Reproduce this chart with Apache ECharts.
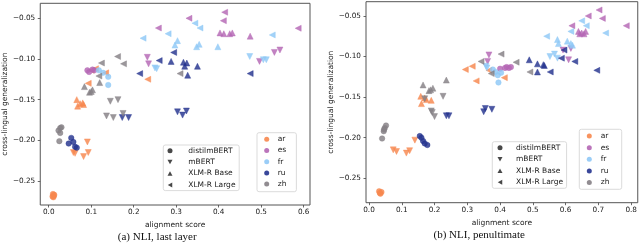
<!DOCTYPE html>
<html>
<head>
<meta charset="utf-8">
<script src="https://cdn.jsdelivr.net/npm/echarts@6/dist/echarts.min.js"></script>
<style>
html,body{margin:0;padding:0;background:#fff;}
#chart{width:640px;height:248px;}
</style>
</head>
<body>
<div id="chart"></div>
<script>
// ---------- data ----------
const languages = ['ar', 'es', 'fr', 'ru', 'zh'];
const models = ['distilmBERT', 'mBERT', 'XLM-R Base', 'XLM-R Large'];
const langColors = ['#f7874e', '#b466b4', '#8fc8f6', '#24338f', '#858085'];
const captions = ['(a) NLI, last layer', '(b) NLI, penultimate'];
const xTicksLeft = [0, 0.1, 0.2, 0.3, 0.4, 0.5, 0.6];
const xTicksRight = [0, 0.1, 0.2, 0.3, 0.4, 0.5, 0.6, 0.7, 0.8];
const yTicks = [-0.25, -0.20, -0.15, -0.10, -0.05];

// Panel (a): [alignment score, cross-lingual generalization], per model: distilmBERT, mBERT, XLM-R Base, XLM-R Large
const left_ar = [
  [[0.010,-0.266],[0.012,-0.268],[0.011,-0.270],[0.013,-0.267],[0.009,-0.269]],
  [[0.058,-0.215],[0.062,-0.216],[0.082,-0.220],[0.091,-0.202],[0.093,-0.215]],
  [[0.066,-0.150],[0.068,-0.158],[0.074,-0.155],[0.080,-0.154],[0.082,-0.156]],
  [[0.093,-0.130],[0.100,-0.114],[0.110,-0.112],[0.134,-0.117],[0.233,-0.125]]
];
const left_es = [
  [[0.091,-0.114],[0.107,-0.114],[0.095,-0.116],[0.103,-0.113]],
  [[0.232,-0.098],[0.235,-0.106],[0.496,-0.103],[0.531,-0.092],[0.544,-0.089]],
  [[0.403,-0.068],[0.412,-0.069],[0.426,-0.069],[0.432,-0.068],[0.474,-0.072]],
  [[0.330,-0.050],[0.414,-0.0426],[0.411,-0.053],[0.587,-0.0623],[0.258,-0.062]]
];
const left_fr = [
  [[0.118,-0.114],[0.128,-0.117],[0.140,-0.122],[0.140,-0.132]],
  [[0.250,-0.111],[0.254,-0.112],[0.473,-0.097],[0.505,-0.101],[0.512,-0.101]],
  [[0.303,-0.0775],[0.297,-0.083],[0.354,-0.082],[0.348,-0.085],[0.398,-0.085]],
  [[0.344,-0.056],[0.356,-0.062],[0.526,-0.0705],[0.222,-0.0745],[0.281,-0.069]]
];
const left_ru = [
  [[0.053,-0.197],[0.047,-0.204],[0.058,-0.202],[0.062,-0.208],[0.066,-0.209]],
  [[0.173,-0.172],[0.188,-0.172],[0.303,-0.165],[0.315,-0.169],[0.324,-0.164]],
  [[0.288,-0.103],[0.317,-0.104],[0.325,-0.105],[0.320,-0.109],[0.327,-0.120],[0.350,-0.109]],
  [[0.214,-0.118],[0.260,-0.102],[0.294,-0.092],[0.474,-0.118]]
];
const left_zh = [
  [[0.027,-0.185],[0.023,-0.188],[0.027,-0.191],[0.025,-0.201],[0.030,-0.184]],
  [[0.136,-0.170],[0.152,-0.172],[0.175,-0.167],[0.145,-0.152],[0.163,-0.150]],
  [[0.084,-0.134],[0.103,-0.138],[0.096,-0.141],[0.120,-0.129],[0.100,-0.140]],
  [[0.162,-0.097],[0.176,-0.106],[0.124,-0.105],[0.118,-0.121],[0.309,-0.118]]
];

// Panel (b)
const right_ar = [
  [[0.031,-0.266],[0.035,-0.269],[0.038,-0.267],[0.033,-0.268]],
  [[0.074,-0.215],[0.084,-0.217],[0.114,-0.219],[0.124,-0.216],[0.140,-0.203]],
  [[0.158,-0.149],[0.160,-0.158],[0.175,-0.153],[0.190,-0.154],[0.170,-0.151]],
  [[0.294,-0.116],[0.315,-0.112],[0.327,-0.130],[0.366,-0.117],[0.413,-0.126]]
];
const right_es = [
  [[0.420,-0.113],[0.427,-0.114],[0.433,-0.113],[0.400,-0.115],[0.415,-0.114]],
  [[0.366,-0.098],[0.362,-0.106],[0.592,-0.092],[0.616,-0.090],[0.609,-0.104]],
  [[0.639,-0.069],[0.649,-0.071],[0.661,-0.069],[0.656,-0.072],[0.643,-0.072]],
  [[0.702,-0.0426],[0.669,-0.050],[0.712,-0.053],[0.619,-0.062],[0.785,-0.062]]
];
const right_fr = [
  [[0.378,-0.116],[0.386,-0.119],[0.393,-0.123],[0.403,-0.120],[0.395,-0.132]],
  [[0.357,-0.112],[0.360,-0.114],[0.552,-0.100],[0.566,-0.097],[0.575,-0.102]],
  [[0.575,-0.079],[0.578,-0.084],[0.605,-0.081],[0.616,-0.084],[0.621,-0.086]],
  [[0.649,-0.056],[0.663,-0.062],[0.616,-0.069],[0.542,-0.075],[0.722,-0.071]]
];
const right_ru = [
  [[0.155,-0.198],[0.160,-0.200],[0.165,-0.204],[0.170,-0.207],[0.178,-0.209]],
  [[0.236,-0.173],[0.244,-0.173],[0.350,-0.168],[0.355,-0.164],[0.375,-0.165]],
  [[0.489,-0.104],[0.514,-0.109],[0.532,-0.110],[0.535,-0.111],[0.514,-0.119]],
  [[0.595,-0.092],[0.587,-0.102],[0.628,-0.106],[0.695,-0.117],[0.553,-0.119]]
];
const right_zh = [
  [[0.040,-0.201],[0.045,-0.192],[0.048,-0.188],[0.052,-0.185],[0.046,-0.190]],
  [[0.170,-0.152],[0.226,-0.149],[0.190,-0.167],[0.200,-0.174],[0.193,-0.169]],
  [[0.165,-0.135],[0.183,-0.142],[0.195,-0.139],[0.236,-0.129],[0.188,-0.141]],
  [[0.491,-0.119],[0.403,-0.097],[0.449,-0.107],[0.342,-0.106],[0.373,-0.121]]
];

const panels = [
  [left_ar, left_es, left_fr, left_ru, left_zh],
  [right_ar, right_es, right_fr, right_ru, right_zh]
];

// ---------- styling ----------
const FONT = 'DejaVu Sans';
const TXT = '#1a1a1a';
const modelSymbols = [
  {symbol: 'circle', rotate: 0, size: 5.5, icon: 'circle'},
  {symbol: 'triangle', rotate: 180, size: 6, icon: 'path://M0,0L10,0L5,9Z'},
  {symbol: 'triangle', rotate: 0, size: 6, icon: 'path://M5,0L10,9L0,9Z'},
  {symbol: 'triangle', rotate: 90, size: 6, icon: 'path://M9,0L9,10L0,5Z'}
];

function fmtY(v) { return (v < 0 ? '\u2212' : '') + Math.abs(v).toFixed(2); }
function fmtX(v) { return v.toFixed(1); }

function xAxis(idx, ticks, min, max) {
  return {
    type: 'value', gridIndex: idx, min: min, max: max,
    name: 'alignment score', nameLocation: 'middle', nameGap: 15,
    nameTextStyle: {fontFamily: FONT, fontSize: 7.5, color: TXT},
    axisLine: {show: false, onZero: false},
    axisTick: {show: true, length: 2.5, lineStyle: {color: '#444', width: 0.8}, customValues: ticks},
    axisLabel: {fontFamily: FONT, fontSize: 7.3, color: TXT, margin: 4, customValues: ticks, formatter: fmtX},
    splitLine: {show: false}
  };
}
function yAxis(idx, min, max, gap) {
  return {
    type: 'value', gridIndex: idx, min: min, max: max,
    name: 'cross-lingual generalization', nameLocation: 'middle', nameGap: gap,
    nameTextStyle: {fontFamily: FONT, fontSize: 7.5, color: TXT},
    axisLine: {show: false, onZero: false},
    axisTick: {show: true, length: 2.5, lineStyle: {color: '#444', width: 0.8}, customValues: yTicks},
    axisLabel: {fontFamily: FONT, fontSize: 7.3, color: TXT, margin: 5, customValues: yTicks, formatter: fmtY},
    splitLine: {show: false}
  };
}

const series = [];
panels.forEach(function (langs, p) {
  langs.forEach(function (groups, li) {
    groups.forEach(function (pts, mi) {
      const s = modelSymbols[mi];
      series.push({
        type: 'scatter',
        name: languages[li] + ' / ' + models[mi] + ' / ' + (p === 0 ? 'a' : 'b'),
        xAxisIndex: p, yAxisIndex: p,
        data: pts,
        symbol: s.symbol, symbolRotate: s.rotate, symbolSize: s.size,
        itemStyle: {color: langColors[li], opacity: 0.82, borderColor: langColors[li], borderWidth: 0.5},
        emphasis: {disabled: true},
        z: 2
      });
    });
  });
});
// legend-only series
models.forEach(function (m, mi) {
  const s = modelSymbols[mi];
  series.push({type: 'scatter', name: m, xAxisIndex: 0, yAxisIndex: 0, data: [],
    symbol: s.symbol, symbolRotate: s.rotate, symbolSize: 5, itemStyle: {color: '#1a1a1a'}});
});
languages.forEach(function (l, li) {
  series.push({type: 'scatter', name: l, xAxisIndex: 0, yAxisIndex: 0, data: [],
    symbol: 'circle', symbolSize: 5, itemStyle: {color: langColors[li], opacity: 0.9}});
});

const modelLegendData = models.map(function (m, mi) { return {name: m, icon: modelSymbols[mi].icon}; });
const langLegendData = languages.map(function (l) { return {name: l, icon: 'circle'}; });

function legend(names, left, top, padding, textPad, lineH) {
  return {
    orient: 'vertical', left: left, top: top, data: names,
    itemWidth: 5, itemHeight: 5, itemGap: 0,
    padding: padding,
    backgroundColor: 'rgba(255,255,255,0.85)', borderColor: '#d2d2d2', borderWidth: 0.8, borderRadius: 2,
    selectedMode: false,
    textStyle: {fontFamily: FONT, fontSize: 7.5, color: TXT, lineHeight: lineH, padding: [0, 0, 0, textPad]}
  };
}

const option = {
  animation: false,
  backgroundColor: '#fff',
  grid: [
    {left: 39, top: 3.3, right: 330, bottom: 43, show: true, borderColor: '#555', borderWidth: 1, containLabel: false},
    {left: 366, top: 1.7, right: 1, bottom: 45.3, show: true, borderColor: '#555', borderWidth: 1, containLabel: false}
  ],
  xAxis: [xAxis(0, xTicksLeft, -0.0199, 0.6148), xAxis(1, xTicksRight, -0.0091, 0.820)],
  yAxis: [yAxis(0, -0.2795, -0.0316, 30), yAxis(1, -0.2801, -0.0324, 30.5)],
  legend: [
    legend(modelLegendData, 163.3, 145, [0, 3.7, 0, 4.2], 10.8, 11.4),
    legend(langLegendData, 257, 132.7, [1, 10, 2, 7.2], 3.5, 11.2),
    legend(modelLegendData, 492.3, 141.7, [0.3, 3.4, 0.3, 5.2], 8.5, 11.5),
    legend(langLegendData, 579.3, 129.3, [1, 12.3, 1, 7.5], 3.9, 11.6)
  ],
  graphic: [
    {type: 'text', x: 157.2, y: 237.5, style: {text: captions[0], font: '11px "Liberation Serif"', fill: '#111', textAlign: 'center', textVerticalAlign: 'middle'}},
    {type: 'text', x: 479.2, y: 235.5, style: {text: captions[1], font: '11px "Liberation Serif"', fill: '#111', textAlign: 'center', textVerticalAlign: 'middle'}}
  ],
  series: series
};

const chart = echarts.init(document.getElementById('chart'), null, {renderer: 'canvas'});
chart.setOption(option);
</script>
</body>
</html>
